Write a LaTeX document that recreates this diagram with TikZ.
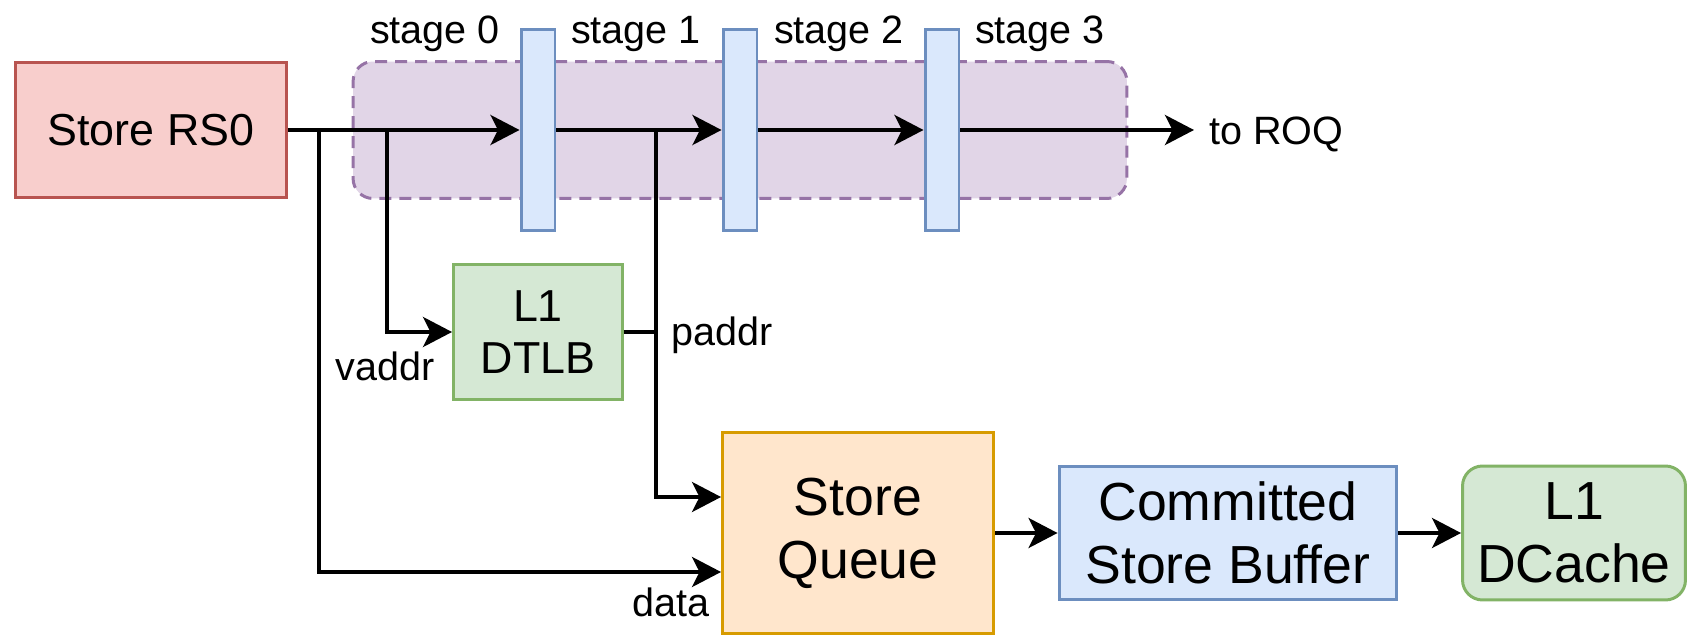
\documentclass[tikz,border=0pt]{standalone}
\usepackage{fontspec}
\setmainfont{Liberation Sans}
\usetikzlibrary{arrows.meta}

\definecolor{redfill}{HTML}{F8CECC}
\definecolor{redline}{HTML}{B85450}
\definecolor{purplefill}{HTML}{E1D5E7}
\definecolor{purpleline}{HTML}{9673A6}
\definecolor{bluefill}{HTML}{DAE8FC}
\definecolor{blueline}{HTML}{6C8EBF}
\definecolor{greenfill}{HTML}{D5E8D4}
\definecolor{greenline}{HTML}{82B366}
\definecolor{orangefill}{HTML}{FFE6CC}
\definecolor{orangeline}{HTML}{D79B00}

\begin{document}
\begin{tikzpicture}[x=0.02cm,y=-0.02cm,
            box/.style={draw,line width=1.7pt,inner sep=0pt,align=center},
            reg/.style={draw=blueline,fill=bluefill,line width=1.7pt,inner sep=0pt,minimum width=0.68cm,minimum height=4.02cm},
            wire/.style={line width=2.2pt,-{Stealth[length=0.58cm,width=0.6cm,inset=0.15cm]}},
            lbl/.style={inner sep=0pt,font=\fontsize{22.5}{27}\selectfont},
            midtext/.style={font=\fontsize{25.5}{30}\selectfont},
            bigtext/.style={font=\fontsize{30.5}{36}\selectfont}]
            \useasboundingbox (0,0) rectangle (1688,635);

            \node (pipe) at (740,130) [draw=purpleline,fill=purplefill,line width=1.7pt,dash pattern=on 0.24cm off 0.16cm,rounded corners=0.4cm,minimum width=15.48cm,minimum height=2.74cm] {};

            \node (rs) at (151,130) [box,draw=redline,fill=redfill,midtext,minimum width=5.42cm,minimum height=2.7cm] {Store RS0};
            \node (tlb) at (538,332) [box,draw=greenline,fill=greenfill,midtext,minimum width=3.38cm,minimum height=2.72cm] {L1\\DTLB};
            \node (sq) at (858,533) [box,draw=orangeline,fill=orangefill,bigtext,minimum width=5.42cm,minimum height=4.02cm] {Store\\Queue};
            \node (csb) at (1228,533) [box,draw=blueline,fill=bluefill,bigtext,minimum width=6.76cm,minimum height=2.68cm] {Committed\\Store Buffer};
            \node (dc) at (1574,533) [box,draw=greenline,fill=greenfill,bigtext,rounded corners=0.4cm,minimum width=4.46cm,minimum height=2.68cm] {L1\\DCache};

            \foreach \i/\x in {0/538,1/740,2/942}
                \node (reg\i) at (\x,130) [reg] {};
            \foreach \i/\x in {0/435,1/636,2/839,3/1040}
                \node (st\i) at (\x,44) [lbl,anchor=base] {stage \i};

            \coordinate (roq) at (1194,130);
            \coordinate (tapd) at (319,130);
            \coordinate (tapv) at (387,130);
            \coordinate (tapp) at (656,130);

            \draw[wire] (rs.east) -- (reg0.west);
            \draw[wire] (reg0.east) -- (reg1.west);
            \draw[wire] (reg1.east) -- (reg2.west);
            \draw[wire] (reg2.east) -- (roq);
            \draw[wire] (tapv) |- (tlb.west);
            \draw[wire] (tapd) |- ([yshift=-0.78cm]sq.west);
            \draw[wire] (tapp) |- ([yshift=0.72cm]sq.west);
            \draw[line width=2.2pt] (tlb.east) -- (tlb.east -| tapp);
            \draw[wire] (sq.east) -- (csb.west);
            \draw[wire] (csb.east) -- (dc.west);

            \node (toroq) at (1209,145) [lbl,anchor=base west] {to ROQ};
            \node (vaddr) at (385,380) [lbl,anchor=base] {vaddr};
            \node (paddr) at (671,345) [lbl,anchor=base west] {paddr};
            \node (data) at (671,616) [lbl,anchor=base] {data};

        \end{tikzpicture}
\end{document}
